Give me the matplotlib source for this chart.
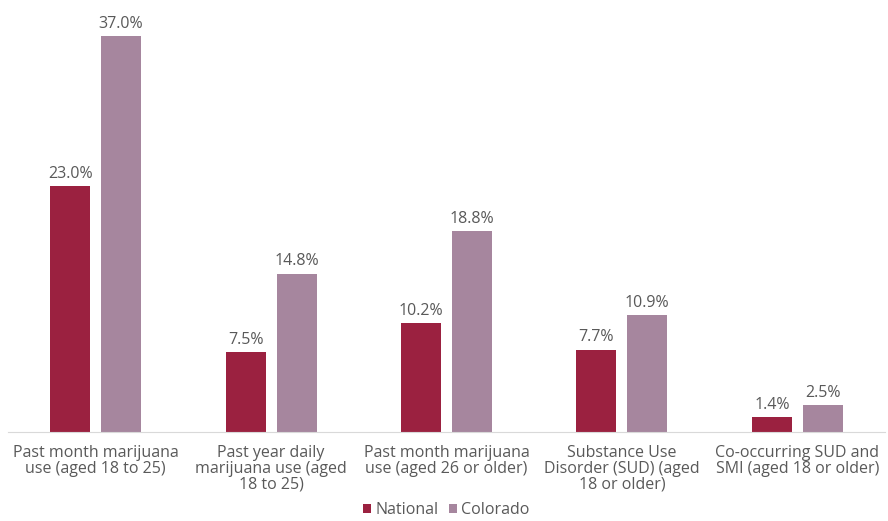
import matplotlib.pyplot as plt
import numpy as np

categories = [
    "Past month marijuana\nuse (aged 18 to 25)",
    "Past year daily\nmarijuana use (aged\n18 to 25)",
    "Past month marijuana\nuse (aged 26 or older)",
    "Substance Use\nDisorder (SUD) (aged\n18 or older)",
    "Co-occurring SUD and\nSMI (aged 18 or older)",
]
national = [23.0, 7.5, 10.2, 7.7, 1.4]
colorado = [37.0, 14.8, 18.8, 10.9, 2.5]

plt.rcParams['font.family'] = ['Open Sans', 'DejaVu Sans']
text_color = '#595959'

fig = plt.figure(figsize=(8.88, 5.21), dpi=100)
ax = fig.add_axes([0.009, 0.1708, 0.9876, 0.791])

x = np.arange(len(categories))
w = 0.228
off = 0.145
b1 = ax.bar(x - off, national, w, color='#9B2140', label='National')
b2 = ax.bar(x + off, colorado, w, color='#A6869E', label='Colorado')

for bars in (b1, b2):
    for b in bars:
        ax.annotate(f"{b.get_height():.1f}%", (b.get_x() + b.get_width() / 2, b.get_height()),
                    xytext=(0, 3), textcoords='offset points', ha='center', va='bottom',
                    fontsize=11.5, color=text_color)

ax.set_xlim(-0.5, len(categories) - 0.5)
ax.set_ylim(0, 38.5)
ax.set_xticks(x)
ax.set_xticklabels(categories, fontsize=11.5, color=text_color, linespacing=1.0)
ax.tick_params(axis='x', length=0, pad=9)
ax.set_yticks([])
for s in ['top', 'right', 'left']:
    ax.spines[s].set_visible(False)
ax.spines['bottom'].set_color('#d9d9d9')

ax.legend(loc='lower center', bbox_to_anchor=(0.5, -0.212), ncol=2, frameon=False,
          fontsize=11.5, labelcolor=text_color, handlelength=0.5, handleheight=0.5,
          handletextpad=0.3, columnspacing=0.6, borderaxespad=0.0, borderpad=0.1)

fig.savefig('out.png', dpi=100)
